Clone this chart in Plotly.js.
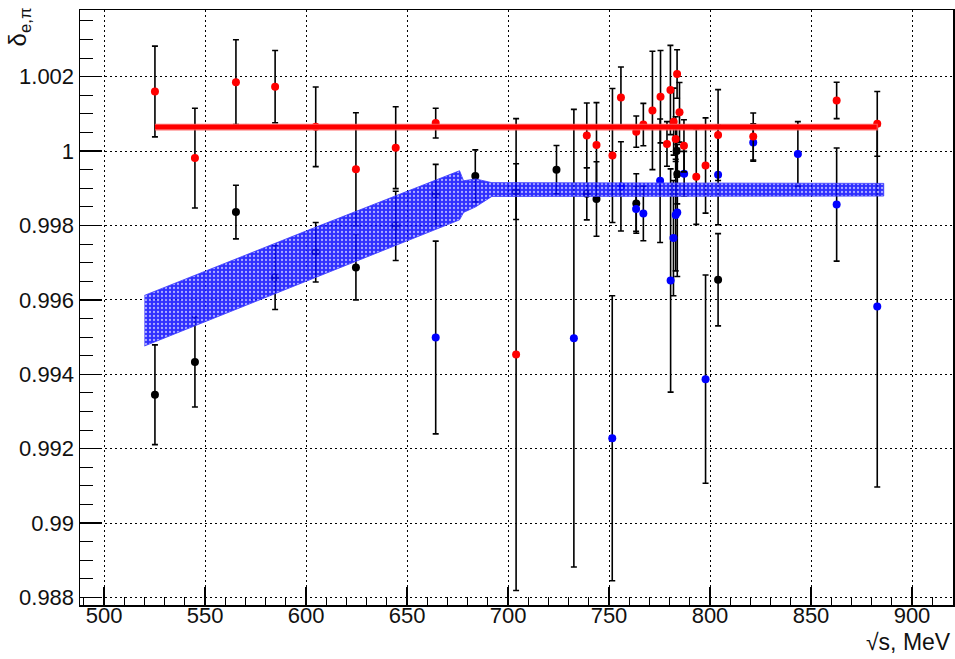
<!DOCTYPE html>
<html>
<head>
<meta charset="utf-8">
<script src="https://cdn.plot.ly/plotly-3.0.1.min.js"></script>
<style>html,body{margin:0;padding:0;background:#fff;}#chart{width:955px;height:659px;}</style>
</head>
<body>
<div id="chart"></div>
<script>
// ---- data ----
const redX   = [525.2, 545.0, 565.3, 584.7, 604.8, 624.7, 644.4, 664.2, 704.0, 739.0, 743.8, 751.7, 755.9, 763.5, 767.0, 771.5, 775.5, 778.7, 780.4, 782.0, 783.0, 783.7, 784.9, 787.1, 793.2, 797.8, 804.0, 821.4, 862.7, 882.8];
const redY   = [1.00160, 0.99981, 1.00185, 1.00173, 1.00065, 0.99951, 1.00009, 1.00075, 0.99453, 1.00042, 1.00016, 0.99988, 1.00144, 1.00052, 1.00071, 1.00109, 1.00146, 1.00019, 1.00164, 1.00079, 1.00032, 1.00207, 1.00104, 1.00014, 0.99931, 0.99961, 1.00043, 1.00039, 1.00136, 1.00073];
const redErr = [0.00122, 0.00134, 0.00114, 0.00097, 0.00107, 0.00152, 0.00110, 0.00040, 0.00634, 0.00087, 0.00114, 0.00180, 0.00082, 0.00042, 0.00057, 0.00159, 0.00124, 0.00060, 0.00120, 0.00090, 0.00060, 0.00065, 0.00080, 0.00070, 0.00128, 0.00128, 0.00122, 0.00063, 0.00049, 0.00087];

const blackX   = [525.2, 545.0, 565.3, 584.7, 604.8, 624.7, 644.4, 664.2, 683.8, 704.0, 724.0, 739.0, 743.8, 763.5, 783.5, 783.8, 804.0];
const blackY   = [0.99345, 0.99433, 0.99836, 0.99660, 0.99728, 0.99687, 0.99799, 0.99884, 0.99933, 0.99891, 0.99950, 0.99885, 0.99871, 0.99859, 1.00000, 0.99938, 0.99654];
const blackErr = [0.00134, 0.00121, 0.00072, 0.00086, 0.00080, 0.00087, 0.00093, 0.00080, 0.00070, 0.00075, 0.00065, 0.00070, 0.00100, 0.00080, 0.00070, 0.00080, 0.00124];

const blueX   = [664.2, 732.6, 751.6, 755.9, 763.4, 767.0, 775.3, 780.5, 781.9, 783.0, 783.8, 787.2, 797.8, 804.0, 821.4, 843.5, 862.7, 882.8];
const blueY   = [0.99499, 0.99497, 0.99228, 0.99905, 0.99844, 0.99832, 0.99920, 0.99652, 0.99766, 0.99828, 0.99835, 0.99939, 0.99387, 0.99936, 1.00023, 0.99992, 0.99856, 0.99582];
const blueErr = [0.00259, 0.00615, 0.00383, 0.00120, 0.00060, 0.00073, 0.00166, 0.00300, 0.00155, 0.00150, 0.00172, 0.00060, 0.00280, 0.00134, 0.00050, 0.00087, 0.00152, 0.00485];

// red constant fit band
const redBandX     = [525.2, 882.8];
const redBandUpper = [1.00072, 1.00072];
const redBandLower = [1.00057, 1.00057];

// blue fit band (linear part + plateau)
const blueBandX     = [520.0, 600.0, 676.0, 678.0, 684.0, 692.0, 886.0];
const blueBandUpper = [0.99612, 0.99785, 0.99947, 0.99920, 0.99925, 0.99915, 0.99913];
const blueBandLower = [0.99476, 0.99650, 0.99815, 0.99835, 0.99850, 0.99878, 0.99879];

const xTickVals = [500, 550, 600, 650, 700, 750, 800, 850, 900];
const yTickVals = [0.988, 0.990, 0.992, 0.994, 0.996, 0.998, 1.000, 1.002];
const yTickText = ['0.988', '0.99', '0.992', '0.994', '0.996', '0.998', '1', '1.002'];

// ---- helpers ----
function poly(x, up, lo) {
  return { x: x.concat(x.slice().reverse()), y: up.concat(lo.slice().reverse()) };
}
function pts(x, y, e, color) {
  return {
    type: 'scatter', mode: 'markers', x: x, y: y, hoverinfo: 'x+y',
    marker: { color: color, size: 8 },
    error_y: { type: 'data', array: e, visible: true, color: '#000', thickness: 1.6, width: 3 },
    showlegend: false
  };
}
const rb = poly(redBandX, redBandUpper, redBandLower);
const bb = poly(blueBandX, blueBandUpper, blueBandLower);

const FONT = 'Liberation Sans, Arial, Helvetica, sans-serif';

const data = [
  pts(blackX, blackY, blackErr, '#000'),
  pts(blueX, blueY, blueErr, '#0000ff'),
  pts(redX, redY, redErr, '#ff0000'),
  { type: 'scatter', mode: 'lines', x: bb.x, y: bb.y, fill: 'toself',
    fillcolor: 'rgba(0,0,255,0.85)',
    fillpattern: { shape: '.', bgcolor: 'rgba(10,10,255,0.85)', fgcolor: 'rgba(255,255,255,0.6)', size: 4, solidity: 0.25 },
    line: { color: 'rgba(60,60,255,0.85)', width: 1 }, hoverinfo: 'skip', showlegend: false },
  { type: 'scatter', mode: 'lines', x: rb.x, y: rb.y, fill: 'toself',
    fillcolor: '#ff0000', line: { color: 'rgba(255,90,90,0.9)', width: 1.2 }, hoverinfo: 'skip', showlegend: false }
];

const layout = {
  width: 955, height: 659,
  margin: { l: 80, r: 2, t: 10, b: 54 },
  paper_bgcolor: '#fff', plot_bgcolor: '#fff',
  font: { family: FONT, color: '#000', size: 22 },
  showlegend: false,
  xaxis: {
    range: [488.1, 920.3],
    tickvals: xTickVals,
    ticks: 'inside', ticklen: 18, tickwidth: 1.5, tickcolor: '#000',
    ticklabelstandoff: -10,
    minor: { dtick: 10, tick0: 500, ticks: 'inside', ticklen: 8, tickwidth: 1, tickcolor: '#000', showgrid: false },
    showgrid: true, gridcolor: '#000', gridwidth: 1, griddash: '2px,3px',
    showline: true, linecolor: '#000', linewidth: 1.5, mirror: true,
    zeroline: false,
    tickfont: { family: FONT, size: 22, color: '#111' }
  },
  yaxis: {
    range: [0.98780, 1.00379],
    tickvals: yTickVals, ticktext: yTickText,
    ticks: 'inside', ticklen: 22, tickwidth: 1.5, tickcolor: '#000',
    minor: { dtick: 0.0005, tick0: 0.988, ticks: 'inside', ticklen: 13, tickwidth: 1, tickcolor: '#000', showgrid: false },
    showgrid: true, gridcolor: '#000', gridwidth: 1, griddash: '2px,3px',
    showline: true, linecolor: '#000', linewidth: 1.5, mirror: true,
    zeroline: false,
    tickfont: { family: FONT, size: 22, color: '#111' }
  },
  annotations: [
    { xref: 'paper', yref: 'paper', x: -0.069, y: 0.972, xanchor: 'center', yanchor: 'middle',
      textangle: -90, showarrow: false, text: 'δ<sub>e,π</sub>', font: { family: FONT, size: 24, color: '#111' } },
    { xref: 'paper', yref: 'paper', x: 1.0, y: -0.062, xanchor: 'right', yanchor: 'middle',
      showarrow: false, text: '√s, MeV', font: { family: FONT, size: 23, color: '#111' } }
  ]
};

Plotly.newPlot('chart', data, layout, { displayModeBar: false, staticPlot: true });
</script>
</body>
</html>
